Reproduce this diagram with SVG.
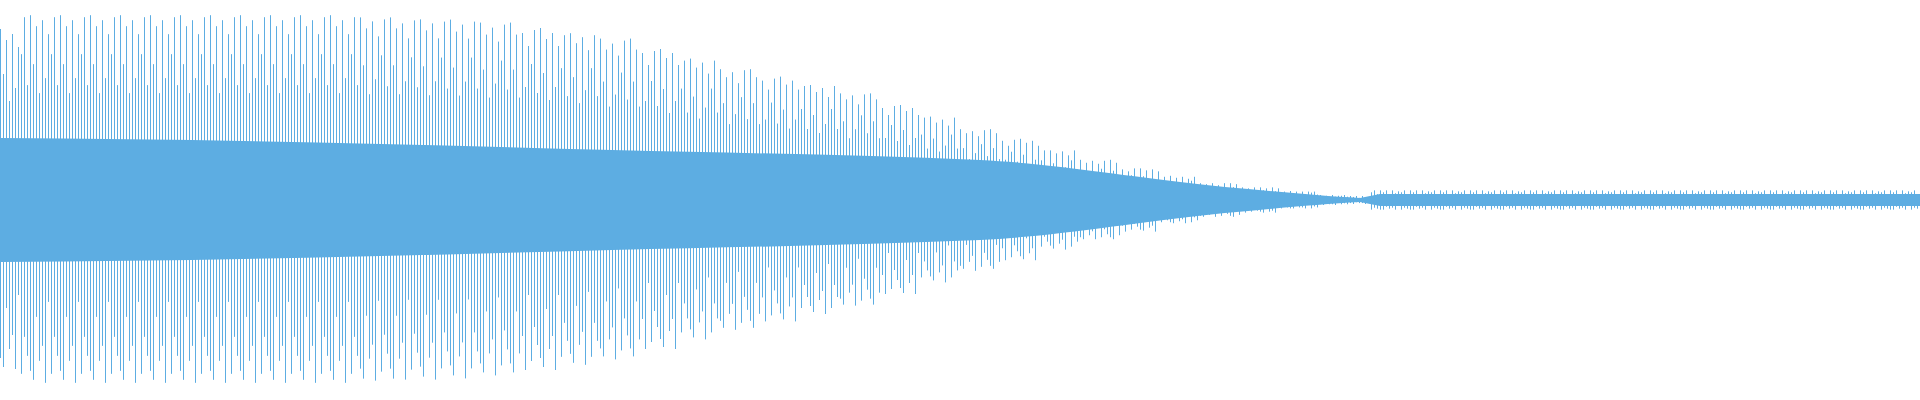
<svg xmlns="http://www.w3.org/2000/svg" width="1920" height="400" viewBox="0 0 1920 400" shape-rendering="crispEdges">
<defs>
<pattern id="b" patternUnits="userSpaceOnUse" x="0" y="0" width="30" height="400">
<g fill="#5DADE2">
<rect x="0" y="10" width="1" height="365"/>
<rect x="3" y="60" width="1" height="325"/>
<rect x="6" y="22" width="1" height="298"/>
<rect x="9" y="90" width="1" height="275"/>
<rect x="12" y="15" width="1" height="335"/>
<rect x="15" y="75" width="1" height="313"/>
<rect x="18" y="30" width="1" height="275"/>
<rect x="21" y="50" width="1" height="328"/>
<rect x="24" y="12" width="1" height="328"/>
<rect x="27" y="82" width="1" height="278"/>
</g>
</pattern>
<pattern id="p0" href="#b" patternTransform="matrix(1 0 0 0.9 0 20)"/>
<pattern id="p1" href="#b" patternTransform="matrix(1 0 0 0.974 0 5.2)"/>
<pattern id="p2" href="#b" patternTransform="matrix(1 0 0 0.963 0 7.4)"/>
<pattern id="p3" href="#b" patternTransform="matrix(1 0 0 0.953 0 9.4)"/>
<pattern id="p4" href="#b" patternTransform="matrix(1 0 0 0.947 0 10.6)"/>
<pattern id="p5" href="#b" patternTransform="matrix(1 0 0 0.932 0 13.6)"/>
<pattern id="p6" href="#b" patternTransform="matrix(1 0 0 0.905 0 19)"/>
<pattern id="p7" href="#b" patternTransform="matrix(1 0 0 0.879 0 24.2)"/>
<pattern id="p8" href="#b" patternTransform="matrix(1 0 0 0.847 0 30.6)"/>
<pattern id="p9" href="#b" patternTransform="matrix(1 0 0 0.795 0 41)"/>
<pattern id="p10" href="#b" patternTransform="matrix(1 0 0 0.742 0 51.6)"/>
<pattern id="p11" href="#b" patternTransform="matrix(1 0 0 0.689 0 62.2)"/>
<pattern id="p12" href="#b" patternTransform="matrix(1 0 0 0.647 0 70.6)"/>
<pattern id="p13" href="#b" patternTransform="matrix(1 0 0 0.605 0 79)"/>
<pattern id="p14" href="#b" patternTransform="matrix(1 0 0 0.563 0 87.4)"/>
<pattern id="p15" href="#b" patternTransform="matrix(1 0 0 0.5 0 100)"/>
<pattern id="p16" href="#b" patternTransform="matrix(1 0 0 0.437 0 112.6)"/>
<pattern id="p17" href="#b" patternTransform="matrix(1 0 0 0.374 0 125.2)"/>
<pattern id="p18" href="#b" patternTransform="matrix(1 0 0 0.321 0 135.8)"/>
<pattern id="p19" href="#b" patternTransform="matrix(1 0 0 0.263 0 147.4)"/>
<pattern id="p20" href="#b" patternTransform="matrix(1 0 0 0.211 0 157.8)"/>
<pattern id="p21" href="#b" patternTransform="matrix(1 0 0 0.168 0 166.4)"/>
<pattern id="p22" href="#b" patternTransform="matrix(1 0 0 0.126 0 174.8)"/>
<pattern id="p23" href="#b" patternTransform="matrix(1 0 0 0.089 0 182.2)"/>
<pattern id="p24" href="#b" patternTransform="matrix(1 0 0 0.068 0 186.4)"/>
<pattern id="p25" href="#b" patternTransform="matrix(1 0 0 0.047 0 190.6)"/>
<pattern id="p26" href="#b" patternTransform="matrix(1 0 0 0.026 0 194.8)"/>
<pattern id="p27" href="#b" patternTransform="matrix(1 0 0 0.02 0 196)"/>
<pattern id="p28" href="#b" patternTransform="matrix(1 0 0 0.053 0 189.4)"/>
</defs>
<rect width="1920" height="400" fill="#ffffff"/>
<g id="waveform">
<rect x="0" y="20" width="20" height="360" fill="url(#p0)"/>
<rect x="20" y="5.2" width="340" height="389.6" fill="url(#p1)"/>
<rect x="360" y="7.4" width="40" height="385.2" fill="url(#p2)"/>
<rect x="400" y="9.4" width="40" height="381.2" fill="url(#p3)"/>
<rect x="440" y="10.6" width="40" height="378.8" fill="url(#p4)"/>
<rect x="480" y="13.6" width="40" height="372.8" fill="url(#p5)"/>
<rect x="520" y="19" width="40" height="362" fill="url(#p6)"/>
<rect x="560" y="24.2" width="40" height="351.6" fill="url(#p7)"/>
<rect x="600" y="30.6" width="40" height="338.8" fill="url(#p8)"/>
<rect x="640" y="41" width="40" height="318" fill="url(#p9)"/>
<rect x="680" y="51.6" width="40" height="296.8" fill="url(#p10)"/>
<rect x="720" y="62.2" width="40" height="275.6" fill="url(#p11)"/>
<rect x="760" y="70.6" width="40" height="258.8" fill="url(#p12)"/>
<rect x="800" y="79" width="40" height="242" fill="url(#p13)"/>
<rect x="840" y="87.4" width="40" height="225.2" fill="url(#p14)"/>
<rect x="880" y="100" width="40" height="200" fill="url(#p15)"/>
<rect x="920" y="112.6" width="40" height="174.8" fill="url(#p16)"/>
<rect x="960" y="125.2" width="40" height="149.6" fill="url(#p17)"/>
<rect x="1000" y="135.8" width="40" height="128.4" fill="url(#p18)"/>
<rect x="1040" y="147.4" width="40" height="105.2" fill="url(#p19)"/>
<rect x="1080" y="157.8" width="40" height="84.4" fill="url(#p20)"/>
<rect x="1120" y="166.4" width="40" height="67.2" fill="url(#p21)"/>
<rect x="1160" y="174.8" width="40" height="50.4" fill="url(#p22)"/>
<rect x="1200" y="182.2" width="40" height="35.6" fill="url(#p23)"/>
<rect x="1240" y="186.4" width="40" height="27.2" fill="url(#p24)"/>
<rect x="1280" y="190.6" width="40" height="18.8" fill="url(#p25)"/>
<rect x="1320" y="194.8" width="30" height="10.4" fill="url(#p26)"/>
<rect x="1350" y="196" width="20" height="8" fill="url(#p27)"/>
<rect x="1370" y="189.4" width="550" height="21.2" fill="url(#p28)"/>
<path fill="#5DADE2" shape-rendering="auto" d="M0,138 C200,139 400,144 612,150 C740,153 860,155 980,160 C1060,164 1120,176 1225,187 C1270,191 1320,196 1360,198 L1380,194 L1920,194 L1920,206 L1380,206 L1360,202 C1320,204 1270,209 1225,213 C1120,224 1060,236 980,240 C860,245 740,247 612,250 C400,256 200,261 0,262 Z"/>
</g>
</svg>
